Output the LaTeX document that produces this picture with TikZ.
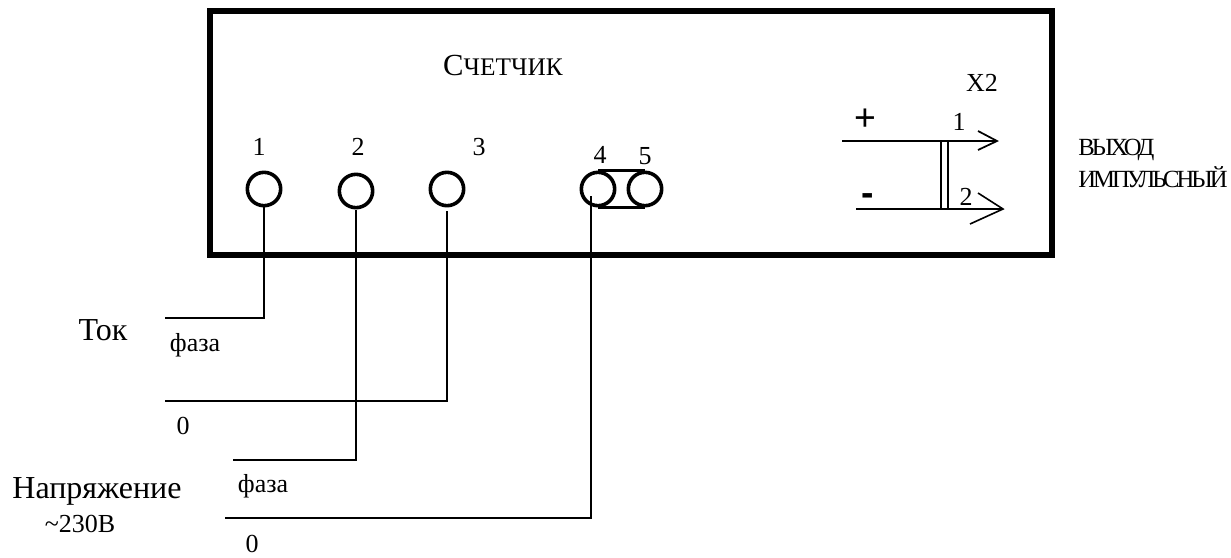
\documentclass[tikz,border=0pt]{standalone}
\usepackage{fontspec}
\setmainfont{Liberation Serif}
\newfontfamily\sansf{Liberation Sans}
\newcommand{\tightf}[1]{{\addfontfeature{LetterSpace=-12}#1}}
\tikzset{
  px/.style={x=0.75pt,y=-0.75pt},
  term/.style={circle,draw,line width=2.7pt,minimum size=25pt,inner sep=0pt},
  wire/.style={line width=1.2pt},
  lab/.style={inner sep=0pt,font=\fontsize{19.5}{19.5}\selectfont},
  big/.style={inner sep=0pt,font=\fontsize{24}{24}\selectfont},
  small/.style={inner sep=0pt,font=\fontsize{19.5}{19.5}\selectfont},
  side/.style={inner sep=0pt,anchor=west,font=\fontsize{18.5}{18.5}\selectfont},
  barb/.style={line width=1.3pt,line join=miter}
}
\begin{document}
\begin{tikzpicture}[px]
\useasboundingbox (0,0) rectangle (1231,557);
\fill[white] (0,0) rectangle (1231,557);
\node[draw,line width=4.5pt,minimum width=631.5pt,minimum height=183pt,inner sep=0pt] (box) at (631,133) {};
\node[inner sep=0pt,font=\fontsize{23}{23}\selectfont] (title) at (503,65) {С{\fontsize{19}{19}\selectfont ЧЕТЧИК}};
\node[term] (c1) at (264,189) {};
\node[term] (c2) at (356,191) {};
\node[term] (c3) at (447,189) {};
\node[term] (c4) at (598,189) {};
\node[term] (c5) at (645,189) {};
\draw[line width=2.7pt] (c4.north) -- (c5.north);
\draw[line width=2.7pt] (c4.south) -- (c5.south);
\node[lab] (n1) at (259,147) {1};
\node[lab] (n2) at (358,147) {2};
\node[lab] (n3) at (479,147) {3};
\node[lab] (n4) at (600,155) {4};
\node[lab] (n5) at (645,156) {5};
\coordinate (e1) at (165,318);
\coordinate (e3) at (165,401);
\coordinate (e2) at (233,460);
\coordinate (e4) at (225,518);
\coordinate (s2) at (356,210);
\coordinate (s3) at (447,211);
\coordinate (s4) at (591,196);
\draw[wire] (c1.south) |- (e1);
\draw[wire] (s2) |- (e2);
\draw[wire] (s3) |- (e3);
\draw[wire] (s4) |- (e4);
\node[big] (tok) at (103,330) {Ток};
\node[small] (f1) at (195,345) {фаза};
\node[small] (z1) at (183,426) {0};
\node[big] (nap) at (97,491) {Напряжение};
\node[lab] (v) at (80,524) {\textasciitilde 230В};
\node[small] (f2) at (263,486) {фаза};
\node[small] (z2) at (252,544) {0};
\node[lab] (x2) at (982,83) {Х2};
\node[inner sep=0pt,font=\sansf\fontsize{28}{28}\selectfont] (plus) at (865,120) {+};
\node[inner sep=0pt,font=\sansf\bfseries\fontsize{28}{28}\selectfont] (minus) at (868,200) {-};
\node[lab] (o1) at (959,122) {1};
\node[lab] (o2) at (966,197) {2};
\coordinate (a1s) at (842,141);
\coordinate (a1e) at (997,141);
\coordinate (a2s) at (856,209);
\coordinate (a2e) at (1003,209);
\draw[barb] (a1s) -- (a1e);
\draw[wire] (a2s) -- (a2e);
\draw[barb] (978,131) -- (a1e) -- (978,150);
\draw[wire] (978,193) -- (a2e) -- (970,224);
\draw[line width=0.9pt] (941,141) -- (941,209);
\draw[line width=0.9pt] (948,141) -- (948,209);
\node[side] (o3) at (1078,150) {\tightf{ВЫХОД}};
\node[side] (o4) at (1078,177) {\tightf{ИМПУЛЬСНЫЙ}};
\end{tikzpicture}
\end{document}
